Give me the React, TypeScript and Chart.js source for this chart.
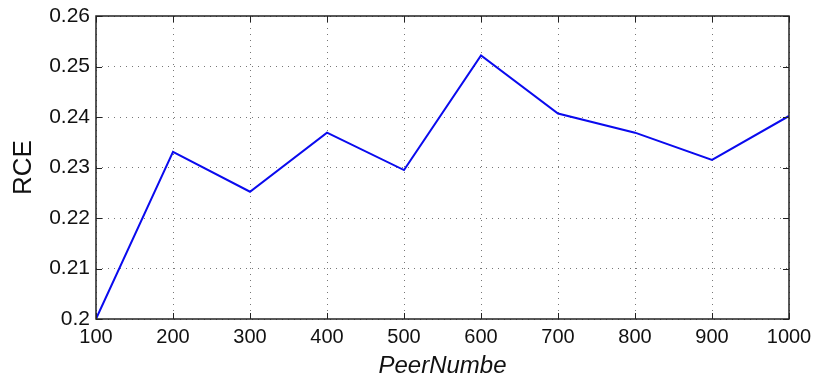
import React, { useEffect, useRef } from "react";
import { Chart, registerables } from "chart.js";

Chart.register(...registerables);

const peerNumbers = [100, 200, 300, 400, 500, 600, 700, 800, 900, 1000];
const rceValues = [0.2, 0.2331, 0.2252, 0.2369, 0.2295, 0.2522, 0.2407, 0.2369, 0.2315, 0.2402];
const yTickMin = 0.2;
const yTickMax = 0.26;
const yTickStep = 0.01;
const xTickStep = 100;

const framePlugin = {
  id: "frame",
  afterDraw(chart: any) {
    const { ctx, chartArea } = chart;
    const { left, right, top, bottom } = chartArea;
    ctx.save();
    ctx.strokeStyle = "#222";
    ctx.lineWidth = 1.5;
    ctx.setLineDash([]);
    ctx.strokeRect(left, top, right - left, bottom - top);
    const len = 6;
    ctx.lineWidth = 1;
    const xs = chart.scales.x;
    const ys = chart.scales.y;
    xs.ticks.forEach((t: any) => {
      const px = Math.round(xs.getPixelForValue(t.value)) + 0.5;
      ctx.beginPath();
      ctx.moveTo(px, bottom);
      ctx.lineTo(px, bottom - len);
      ctx.moveTo(px, top);
      ctx.lineTo(px, top + len);
      ctx.stroke();
    });
    ys.ticks.forEach((t: any) => {
      const py = Math.round(ys.getPixelForValue(t.value)) + 0.5;
      ctx.beginPath();
      ctx.moveTo(left, py);
      ctx.lineTo(left + len, py);
      ctx.moveTo(right, py);
      ctx.lineTo(right - len, py);
      ctx.stroke();
    });
    ctx.restore();
  },
};

export default function App() {
  const ref = useRef<HTMLCanvasElement | null>(null);
  useEffect(() => {
    document.body.style.margin = "0";
    const canvas = ref.current;
    if (!canvas) return;
    const chart = new Chart(canvas, {
      type: "line",
      data: {
        datasets: [
          {
            data: peerNumbers.map((x, i) => ({ x, y: rceValues[i] })),
            borderColor: "#0a0aee",
            borderWidth: 2,
            pointRadius: 0,
            tension: 0,
            fill: false,
          },
        ],
      },
      options: {
        responsive: false,
        animation: false,
        devicePixelRatio: 1,
        layout: { padding: { left: 0, right: 24, top: 16, bottom: 0 } },
        plugins: { legend: { display: false }, tooltip: { enabled: false } },
        scales: {
          x: {
            type: "linear",
            min: 100,
            max: 1000,
            afterFit: (s: any) => {
              s.height = 59;
              s.paddingLeft = 0;
              s.paddingRight = 0;
            },
            ticks: {
              stepSize: xTickStep,
              padding: 6,
              color: "#111",
              font: { family: "'Liberation Sans', Arial, sans-serif", size: 20 },
              maxRotation: 0,
              autoSkip: false,
              callback: (v: any) => String(v),
            },
            grid: { color: "#777", lineWidth: 1, drawTicks: false, tickLength: 0 },
            border: { display: false, dash: [1, 5] },
            title: {
              display: true,
              text: "PeerNumbe",
              color: "#111",
              font: { family: "'Liberation Sans', Arial, sans-serif", size: 24, style: "italic", lineHeight: 1 },
              padding: { top: 0, bottom: 0 },
            },
          },
          y: {
            min: yTickMin,
            max: yTickMax,
            afterFit: (s: any) => {
              s.width = 96;
              s.paddingTop = 0;
              s.paddingBottom = 0;
            },
            ticks: {
              stepSize: yTickStep,
              padding: 6,
              color: "#111",
              font: { family: "'Liberation Sans', Arial, sans-serif", size: 21 },
              callback: (v: any) => Number(Number(v).toFixed(2)).toString(),
            },
            grid: { color: "#777", lineWidth: 1, drawTicks: false, tickLength: 0 },
            border: { display: false, dash: [1, 5] },
            title: {
              display: true,
              text: "RCE",
              color: "#111",
              font: { family: "'Liberation Sans', Arial, sans-serif", size: 26, lineHeight: 1 },
              padding: { top: 11, bottom: 0 },
            },
          },
        },
      },
      plugins: [framePlugin],
    });
    return () => chart.destroy();
  }, []);
  return (
    <div style={{ position: "absolute", left: 0, top: 0, width: 813, height: 378 }}>
      <canvas ref={ref} width={813} height={378} style={{ width: 813, height: 378 }} />
    </div>
  );
}
